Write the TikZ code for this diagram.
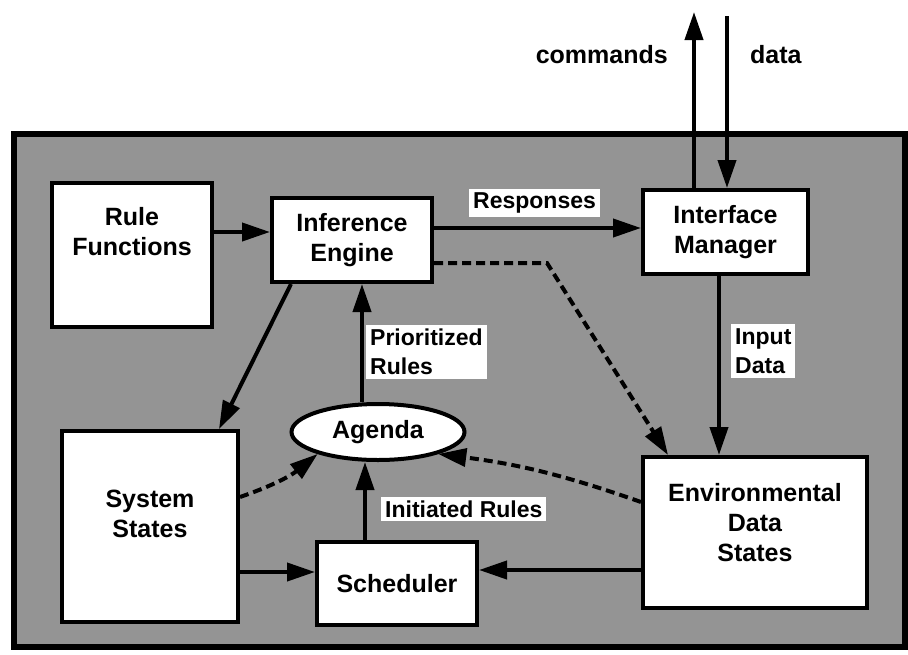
\documentclass[tikz,border=0pt]{standalone}
\usepackage{fontspec}
\setmainfont{Liberation Sans}
\usetikzlibrary{arrows.meta,shapes.geometric}

\begin{document}
\begin{tikzpicture}[x=1pt,y=-1pt,
  txt/.style={font=\fontsize{25}{30}\selectfont\bfseries, align=center, inner sep=0pt},
  box/.style={draw, line width=4pt, fill=white, inner sep=0pt, txt},
  tag/.style={font=\fontsize{23}{29}\selectfont\bfseries, align=left, fill=white, inner sep=4pt},
  arr/.style={line width=4pt, -{Triangle[length=28pt,width=18pt]}},
  dsh/.style={arr, dash pattern=on 9pt off 5pt},
]
\useasboundingbox (0,0) rectangle (908,654);

% shaded panel with heavy frame
\fill[black!42] (14,134) rectangle (905,647);
\draw[line width=6pt] (14,134) rectangle (905,647);

% blocks
\node[box, minimum width=160pt, minimum height=144pt] (rf) at (132,255) {};
\node[txt] (rft) at (132,232) {Rule\\Functions};
\node[box, minimum width=160pt, minimum height=84pt] (ie) at (352,240) {Inference\\Engine};
\node[box, minimum width=165pt, minimum height=84pt] (im) at (725.5,232) {Interface\\Manager};
\node[box, minimum width=176pt, minimum height=191pt] (ss) at (150,526.5) {};
\node[txt] (sst) at (150,514) {System\\States};
\node[box, minimum width=160pt, minimum height=83pt] (sch) at (397,583.5) {Scheduler};
\node[box, minimum width=224pt, minimum height=151pt] (env) at (755,532.5) {};
\node[txt] (envt) at (755,523) {Environmental\\Data\\States};
\node[box, ellipse, minimum width=173pt, minimum height=56pt] (ag) at (378,432) {Agenda};

% external ends of the command and data lines
\coordinate (cmdtip) at (694,12);
\coordinate (datatail) at (727,16);
\coordinate (knee) at (547,263);

% solid connectors
\draw[arr] (rf.east |- 0,232) -- (ie.west |- 0,232);
\draw[arr] (ie.east |- 0,228) -- (im.west |- 0,228);
\draw[arr] ([xshift=21pt]ie.south west) -- ([xshift=-21pt]ss.north east);
\draw[arr] ([xshift=-16pt]ag.north) -- ([xshift=-16pt]ag.north |- ie.south);
\draw[arr] (sch.north -| 365,0) -- (ag.south -| 365,0);
\draw[arr] (ss.east |- 0,572) -- (sch.west |- 0,572);
\draw[arr] (env.west |- 0,570) -- (sch.east |- 0,570);
\draw[arr] (im.south -| 719,0) -- (env.north -| 719,0);
\draw[arr] (im.north -| cmdtip) -- (cmdtip);
\draw[arr] (datatail) -- (im.north -| datatail);

% dashed connectors
\draw[dsh] (ie.east |- knee) -- (knee) -- ([xshift=27pt]env.north west);
\draw[dsh] (ss.east |- 0,497) to[bend right=10] (ag.200);
\draw[dsh] (env.west |- 0,502) to[bend right=6] (ag.340);

% connector labels
\node[tag, anchor=west] (resp) at (469,203) {Responses};
\node[tag, anchor=west] (prio) at (366,352) {Prioritized\\Rules};
\node[tag, anchor=west] (inp) at (731,351) {Input\\Data};
\node[tag, anchor=west] (init) at (381,509) {Initiated Rules};
\node[txt, anchor=east] (cmdl) at (668,55) {commands};
\node[txt, anchor=west] (datal) at (750,55) {data};
\end{tikzpicture}
\end{document}
